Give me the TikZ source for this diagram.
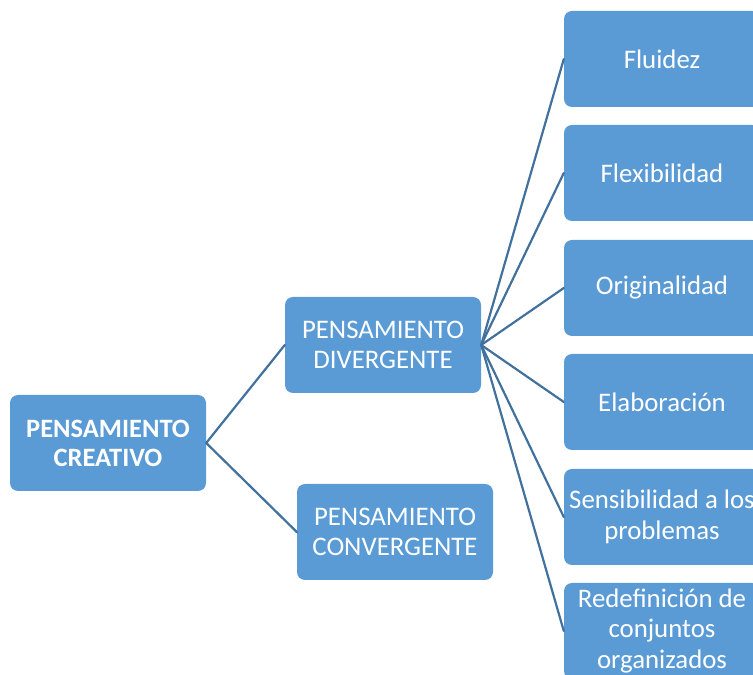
\documentclass[tikz,border=0pt]{standalone}
\usepackage{fontspec}
\setmainfont{Carlito}
\definecolor{boxblue}{HTML}{5B9BD5}
\definecolor{lineblue}{HTML}{41719C}
\begin{document}
\begin{tikzpicture}[x=1pt,y=1pt,line join=round,line cap=round,
	caja/.style={fill=boxblue,draw=none,rounded corners=8pt,minimum width=196pt,minimum height=96pt,
		inner sep=2pt,align=center,text=white,font=\fontsize{26.8}{30.5}\selectfont},
	raiz/.style={caja,font=\fontsize{26.5}{29}\selectfont\bfseries},
	rama/.style={draw=lineblue,line width=2.2pt}]
	\useasboundingbox (0,0) rectangle (753,675);
	\node[raiz] (creativo) at (108,232) {PENSAMIENTO\\CREATIVO};
	\node[caja] (divergente) at (383,330) {PENSAMIENTO\\DIVERGENTE};
	\node[caja] (convergente) at (395,143) {PENSAMIENTO\\CONVERGENTE};
	\node[caja] (fluidez) at (662,616) {Fluidez};
	\node[caja] (flexibilidad) at (662,502) {Flexibilidad};
	\node[caja] (originalidad) at (662,387) {Originalidad};
	\node[caja] (elaboracion) at (662,273) {Elaboración};
	\node[caja] (sensibilidad) at (662,158) {Sensibilidad a los\\problemas};
	\node[caja] (redefinicion) at (662,44) {Redefinición de\\conjuntos\\organizados};
	\draw[rama] (creativo.east)--(divergente.west);
	\draw[rama] (creativo.east)--(convergente.west);
	\foreach \n in {fluidez,flexibilidad,originalidad,elaboracion,sensibilidad,redefinicion}
		\draw[rama] (divergente.east)--(\n.west);
\end{tikzpicture}
\end{document}
